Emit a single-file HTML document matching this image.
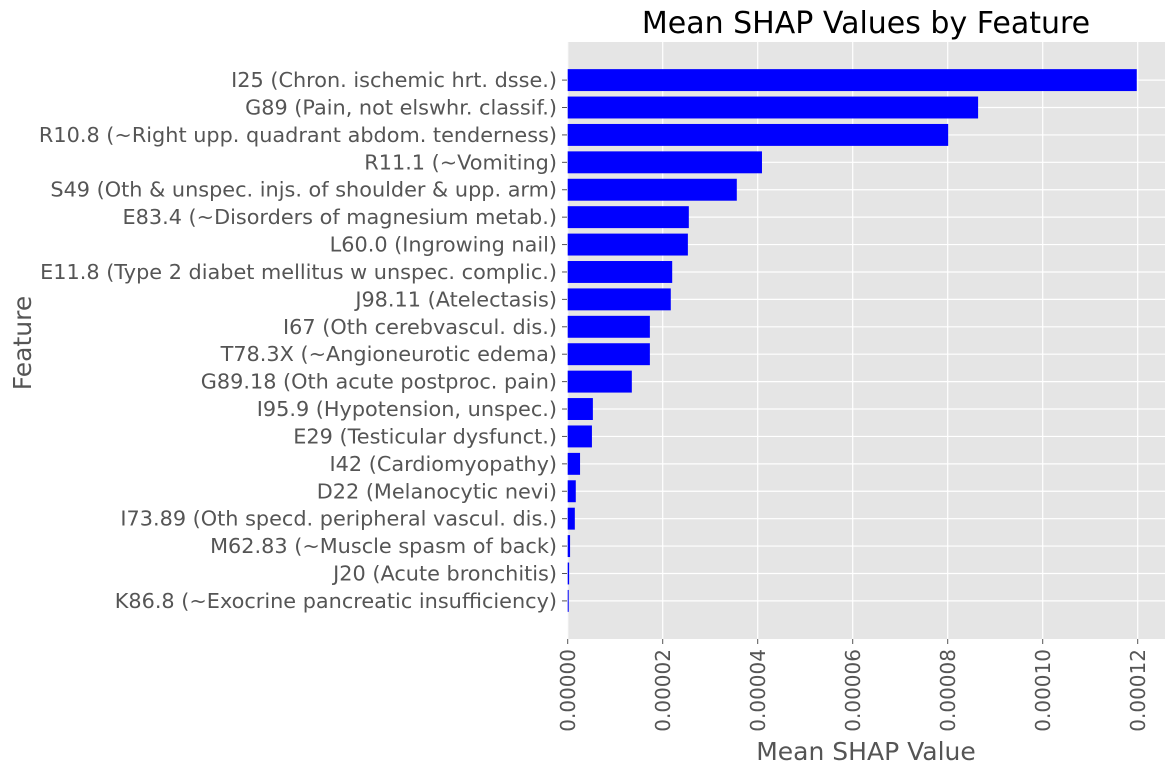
<!DOCTYPE html>
<html><head><meta charset="utf-8"><style>
body{margin:0;background:#fff;}
svg text{font-family:"DejaVu Sans","Liberation Sans",sans-serif;}
</style></head><body>
<svg id="c" width="1175" height="775"></svg>
<script>
const categories=["I25 (Chron. ischemic hrt. dsse.)","G89 (Pain, not elswhr. classif.)","R10.8 (~Right upp. quadrant abdom. tenderness)","R11.1 (~Vomiting)","S49 (Oth & unspec. injs. of shoulder & upp. arm)","E83.4 (~Disorders of magnesium metab.)","L60.0 (Ingrowing nail)","E11.8 (Type 2 diabet mellitus w unspec. complic.)","J98.11 (Atelectasis)","I67 (Oth cerebvascul. dis.)","T78.3X (~Angioneurotic edema)","G89.18 (Oth acute postproc. pain)","I95.9 (Hypotension, unspec.)","E29 (Testicular dysfunct.)","I42 (Cardiomyopathy)","D22 (Melanocytic nevi)","I73.89 (Oth specd. peripheral vascul. dis.)","M62.83 (~Muscle spasm of back)","J20 (Acute bronchitis)","K86.8 (~Exocrine pancreatic insufficiency)"];
const values=[11.98e-5,8.64e-5,8.01e-5,4.09e-5,3.56e-5,2.55e-5,2.53e-5,2.20e-5,2.17e-5,1.73e-5,1.73e-5,1.35e-5,0.53e-5,0.51e-5,0.26e-5,0.17e-5,0.15e-5,0.05e-5,0.03e-5,0.01e-5];
const xTicks=[0,0.00002,0.00004,0.00006,0.00008,0.00010,0.00012];
const xTickLabels=["0.00000","0.00002","0.00004","0.00006","0.00008","0.00010","0.00012"];
const svg=document.getElementById('c');
const NS='http://www.w3.org/2000/svg';
const L=567.7,R=1165,T=42,B=639;
const xs=v=>L+v/2e-5*95;
const n=categories.length;
const yLo=-1.39,yHi=n-1+1.39;
const ys=i=>T+(i-yLo)/(yHi-yLo)*(B-T);
function mk(tag,attrs,parent){const e=document.createElementNS(NS,tag);for(const k in attrs)e.setAttribute(k,attrs[k]);(parent||svg).appendChild(e);return e;}
const bg=mk('rect',{x:567,y:T,width:R-567,height:B-T,fill:'#E5E5E5'});


xTicks.forEach((t,i)=>{
  const x=xs(t);
  const g=mk('line',{x1:x,x2:x,y1:T,y2:B,stroke:'#fff','stroke-width':1.2});
  
  
  mk('line',{x1:x,x2:x,y1:B,y2:B+5,stroke:'#555','stroke-width':1});
  const tx=mk('text',{x:0,y:0,transform:`translate(${x+7.5},${B+10}) rotate(-90)`,'text-anchor':'end','font-size':20,fill:'#555'});
  tx.textContent=xTickLabels[i];
  
  
});
categories.forEach((c,i)=>{
  const y=ys(i);
  const g=mk('line',{x1:567,x2:R,y1:y,y2:y,stroke:'#fff','stroke-width':1.2});
  
  
});
categories.forEach((c,i)=>{
  const y=ys(i),h=0.8*(B-T)/(yHi-yLo);
  const b=mk('rect',{x:xs(0),y:y-h/2,width:Math.max(xs(values[i])-xs(0),1),height:h,fill:'#0000FF'});
  
  
  mk('line',{x1:562,x2:567,y1:y,y2:y,stroke:'#555','stroke-width':1});
  const t=mk('text',{x:557,y:y+7,'text-anchor':'end','font-size':20.8,fill:'#555'});
  t.textContent=c;
  
  
});
const title=mk('text',{x:866,y:33,'text-anchor':'middle','font-size':30,fill:'#000'});
title.textContent='Mean SHAP Values by Feature';


const xl=mk('text',{x:866,y:760,'text-anchor':'middle','font-size':25,fill:'#555'});
xl.textContent='Mean SHAP Value';


const yl=mk('text',{x:0,y:0,transform:'translate(31,343) rotate(-90)','text-anchor':'middle','font-size':25,fill:'#555'});
yl.textContent='Feature';


</script>
</body></html>
